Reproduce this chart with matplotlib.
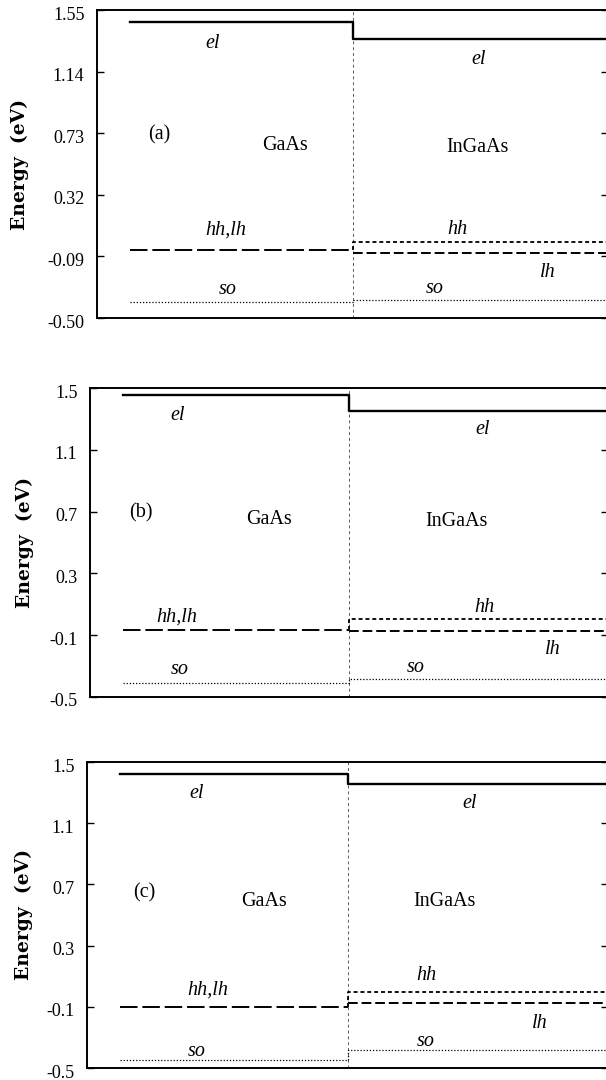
import matplotlib
matplotlib.use("Agg")
import matplotlib.pyplot as plt
import matplotlib.transforms as mtransforms

# --- data (eV), one value per panel (a), (b), (c) ---
panel_tags = ["(a)", "(b)", "(c)"]
ticks_a = [-0.50, -0.09, 0.32, 0.73, 1.14, 1.55]
ticks_bc = [-0.5, -0.1, 0.3, 0.7, 1.1, 1.5]
tick_labels_a = ["-0.50", "-0.09", "0.32", "0.73", "1.14", "1.55"]
tick_labels_bc = ["-0.5", "-0.1", "0.3", "0.7", "1.1", "1.5"]

gaas_el = [1.47, 1.452, 1.42]
ingaas_el = [1.357, 1.349, 1.353]
gaas_hhlh = [-0.05, -0.068, -0.102]
ingaas_hh = [0.004, 0.002, -0.003]
ingaas_lh = [-0.069, -0.072, -0.072]
gaas_so = [-0.396, -0.409, -0.446]
ingaas_so = [-0.38, -0.385, -0.385]

# schematic x extent: GaAs region then InGaAs region
x_start, x_div, x_end = 0.064, 0.5, 1.0

plt.rcParams["font.family"] = ["Liberation Serif", "DejaVu Serif"]

W, H = 606, 1080
fig = plt.figure(figsize=(W / 100, H / 100), dpi=100)

# panel geometry in pixels: left, right, top, bottom
geoms = [(97, 608, 10, 318), (90, 608, 388, 697), (87, 608, 762, 1068)]
ylabel_x = [20, 25, 24]

# label positions in pixels for each panel
text_pos = [
    {"el1": (213, 43), "el2": (479, 59), "tag": (159, 135), "gaas": (285, 146),
     "ingaas": (477, 147), "hhlh": (226, 230), "hh": (457, 229), "lh": (548, 272),
     "so1": (228, 289), "so2": (435, 288)},
    {"el1": (178, 415), "el2": (483, 429), "tag": (141, 513), "gaas": (269, 520),
     "ingaas": (457, 521), "hhlh": (177, 617), "hh": (484, 607), "lh": (553, 649),
     "so1": (180, 670), "so2": (416, 667)},
    {"el1": (197, 793), "el2": (470, 803), "tag": (144, 893), "gaas": (264, 902),
     "ingaas": (445, 902), "hhlh": (208, 990), "hh": (426, 976), "lh": (540, 1023),
     "so1": (197, 1052), "so2": (426, 1042)},
]

ylims = [(-0.50, 1.55), (-0.5, 1.5), (-0.5, 1.5)]
shift_down = mtransforms.ScaledTranslation(0, -3 / 100, fig.dpi_scale_trans)

for i in range(3):
    l, r, t, b = geoms[i]
    ax = fig.add_axes([l / W, 1 - b / H, (r - l) / W, (b - t) / H])
    ax.set_xlim(0, 1)
    ax.set_ylim(*ylims[i])

    # interface
    ax.axvline(x_div, color="0.35", lw=0.7, ls=(0, (3, 3)))

    # conduction band
    ax.plot([x_start, x_div, x_div, x_end], [gaas_el[i], gaas_el[i], ingaas_el[i], ingaas_el[i]],
            color="black", lw=1.7)
    # valence bands
    ax.plot([x_start, x_div], [gaas_hhlh[i], gaas_hhlh[i]], color="black", lw=1.4,
            ls=(0, (9, 2.5)))
    ax.plot([x_div, x_div, x_end], [gaas_hhlh[i], ingaas_hh[i], ingaas_hh[i]], color="black",
            lw=1.3, ls=(0, (2.2, 1.6)))
    ax.plot([x_div, x_end], [ingaas_lh[i], ingaas_lh[i]], color="black", lw=1.4,
            ls=(0, (5, 2)))
    # split-off
    ax.plot([x_start, x_div, x_div, x_end], [gaas_so[i], gaas_so[i], ingaas_so[i], ingaas_so[i]],
            color="black", lw=0.9, ls=(0, (1, 1.5)))

    if i == 0:
        ax.set_yticks(ticks_a, tick_labels_a)
    else:
        ax.set_yticks(ticks_bc, tick_labels_bc)
    ax.set_xticks([])
    ax.tick_params(axis="y", direction="in", length=5, width=1, right=True, pad=9,
                   labelsize=13)
    for lab in ax.get_yticklabels():
        lab.set_transform(lab.get_transform() + shift_down)
    for sp in ax.spines.values():
        sp.set_linewidth(1.4)

    def place(key, s, **kw):
        px, py = text_pos[i][key]
        ax.text((px - l) / (r - l), (b - py) / (b - t), s, transform=ax.transAxes,
                ha="center", va="center", **kw)

    place("el1", "el", style="italic", fontsize=14.5)
    place("el2", "el", style="italic", fontsize=14.5)
    place("tag", panel_tags[i], fontsize=14.5)
    place("gaas", "GaAs", fontsize=14.5)
    place("ingaas", "InGaAs", fontsize=14.5)
    place("hhlh", "hh,lh", style="italic", fontsize=14.5)
    place("hh", "hh", style="italic", fontsize=14.5)
    place("lh", "lh", style="italic", fontsize=14.5)
    place("so1", "so", style="italic", fontsize=14.5)
    place("so2", "so", style="italic", fontsize=14.5)

    fig.text(ylabel_x[i] / W, 1 - (t + b) / 2 / H, "Energy  (eV)", rotation=90,
             ha="center", va="center", fontsize=13.5, fontweight="bold",
             family=["DejaVu Serif"])

fig.savefig("out.png", dpi=100)
